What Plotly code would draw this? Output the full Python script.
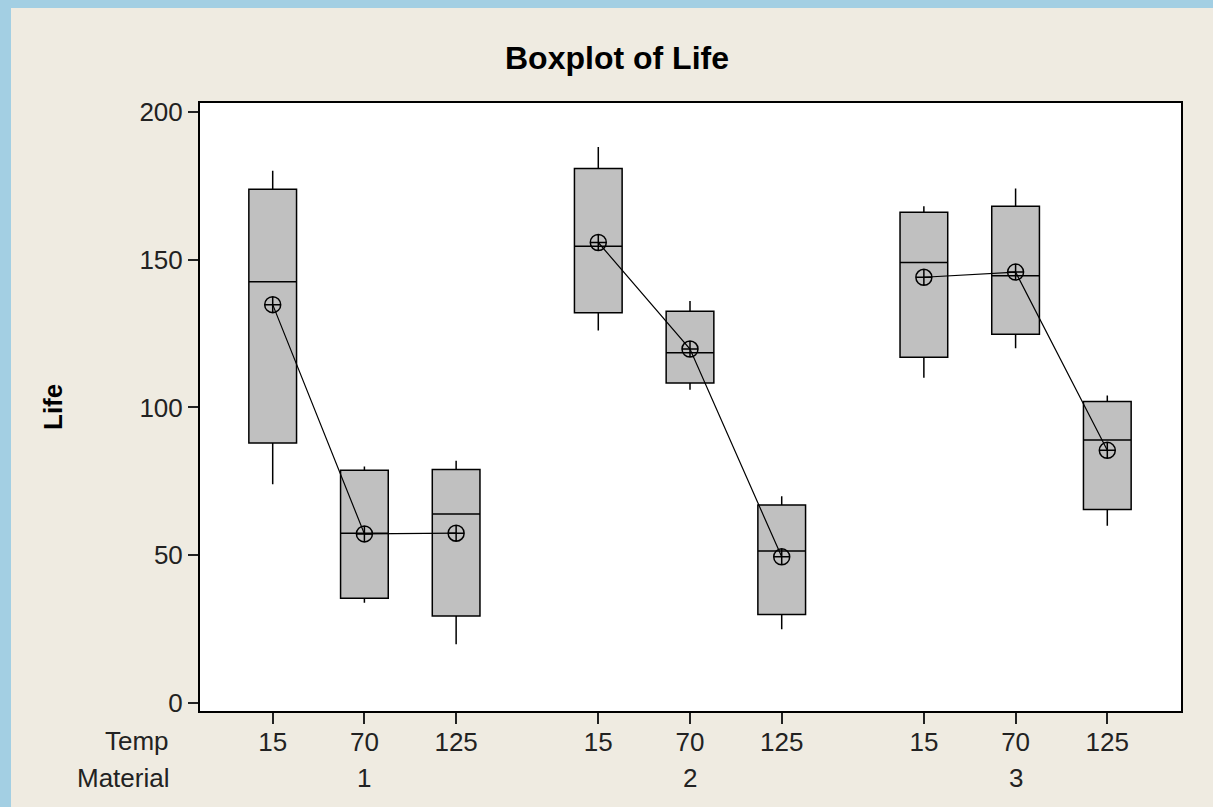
import numpy as np
import plotly.graph_objects as go

# Battery life observations by material and temperature
materials = ["1", "2", "3"]
temps = ["15", "70", "125"]
life = {
    ("1", "15"): [130, 155, 74, 180],
    ("1", "70"): [34, 40, 80, 75],
    ("1", "125"): [20, 70, 82, 58],
    ("2", "15"): [150, 188, 159, 126],
    ("2", "70"): [136, 122, 106, 115],
    ("2", "125"): [25, 70, 58, 45],
    ("3", "15"): [138, 110, 168, 160],
    ("3", "70"): [174, 120, 150, 139],
    ("3", "125"): [96, 104, 82, 60],
}

BG = "#EFEBE1"
FRAME = "#A3CFE3"
FONT = "Liberation Sans"
TXT = "#222"
FS = 26

W, H = 1213, 807
ML, MR, MT, MB = 200, 32, 103, 96
PW, PH = W - ML - MR, H - MT - MB

GROUP_GAP = 1.55  # spacing between material groups, in box units

def px_x(p):
    return (p - ML) / PW

def px_y(p):
    return (H - MB - p) / PH

fig = go.Figure()

tickvals, ticktext = [], []
group_centres = []
for gi, mat in enumerate(materials):
    xs, means = [], []
    for ti, t in enumerate(temps):
        pos = gi * (len(temps) - 1 + GROUP_GAP) + ti
        vals = np.array(life[(mat, t)], dtype=float)
        q1, med, q3 = np.percentile(vals, [25, 50, 75], method="weibull")
        fig.add_trace(go.Box(
            x=[pos], q1=[q1], median=[med], q3=[q3],
            lowerfence=[vals.min()], upperfence=[vals.max()],
            width=0.52, whiskerwidth=0,
            fillcolor="#C0C0C0",
            line=dict(color="black", width=1.5),
            boxpoints=False, showlegend=False,
        ))
        xs.append(pos)
        means.append(vals.mean())
        tickvals.append(pos)
        ticktext.append(t)
    group_centres.append(xs[1])
    fig.add_trace(go.Scatter(
        x=xs, y=means, mode="lines+markers",
        line=dict(color="black", width=1.2),
        marker=dict(symbol="circle-cross-open", size=16,
                    color="black", line=dict(width=1.5, color="black")),
        showlegend=False,
    ))

annotations = [
    dict(text="<b>Boxplot of Life</b>", x=px_x(617), y=px_y(58), xref="paper", yref="paper",
         showarrow=False, font=dict(family=FONT, size=32, color="black"),
         xanchor="center", yanchor="middle"),
    dict(text="<b>Life</b>", x=px_x(53), y=px_y(407), xref="paper", yref="paper",
         showarrow=False, textangle=-90, font=dict(family=FONT, size=26, color="black"),
         xanchor="center", yanchor="middle"),
    dict(text="Temp", x=px_x(171), y=px_y(741), xref="paper", yref="paper",
         showarrow=False, font=dict(family=FONT, size=FS, color=TXT),
         xanchor="right", yanchor="middle"),
    dict(text="Material", x=px_x(171), y=px_y(778), xref="paper", yref="paper",
         showarrow=False, font=dict(family=FONT, size=FS, color=TXT),
         xanchor="right", yanchor="middle"),
]
for mat, cx in zip(materials, group_centres):
    annotations.append(dict(text=mat, x=cx, y=px_y(778), xref="x", yref="paper",
                            showarrow=False, font=dict(family=FONT, size=FS, color=TXT),
                            xanchor="center", yanchor="middle"))

shapes = [
    dict(type="rect", xref="paper", yref="paper",
         x0=px_x(0), x1=px_x(W), y0=px_y(8), y1=px_y(0),
         fillcolor=FRAME, line=dict(width=0), layer="below"),
    dict(type="rect", xref="paper", yref="paper",
         x0=px_x(0), x1=px_x(11), y0=px_y(H), y1=px_y(0),
         fillcolor=FRAME, line=dict(width=0), layer="below"),
]

unit = (1107.3 - 272.7) / tickvals[-1]
x_lo = (ML - 272.7) / unit
x_hi = (W - MR - 272.7) / unit

fig.update_layout(
    width=W, height=H,
    margin=dict(l=ML, r=MR, t=MT, b=MB),
    paper_bgcolor=BG, plot_bgcolor="white",
    annotations=annotations, shapes=shapes,
    font=dict(family=FONT, size=FS, color=TXT),
)
fig.update_xaxes(
    range=[x_lo, x_hi], tickvals=tickvals, ticktext=ticktext,
    showgrid=False, zeroline=False,
    showline=True, mirror=True, linecolor="black", linewidth=2,
    ticks="outside", ticklen=11, tickwidth=1.5, tickcolor=TXT,
    ticklabelstandoff=-4,
    tickfont=dict(family=FONT, size=FS, color=TXT),
)
fig.update_yaxes(
    range=[-2.6, 202.9], tickvals=[0, 50, 100, 150, 200],
    showgrid=False, zeroline=False,
    showline=True, mirror=True, linecolor="black", linewidth=2,
    ticks="outside", ticklen=10, tickwidth=1.5, tickcolor=TXT,
    tickfont=dict(family=FONT, size=FS, color=TXT),
)

fig.write_html("out.html")
